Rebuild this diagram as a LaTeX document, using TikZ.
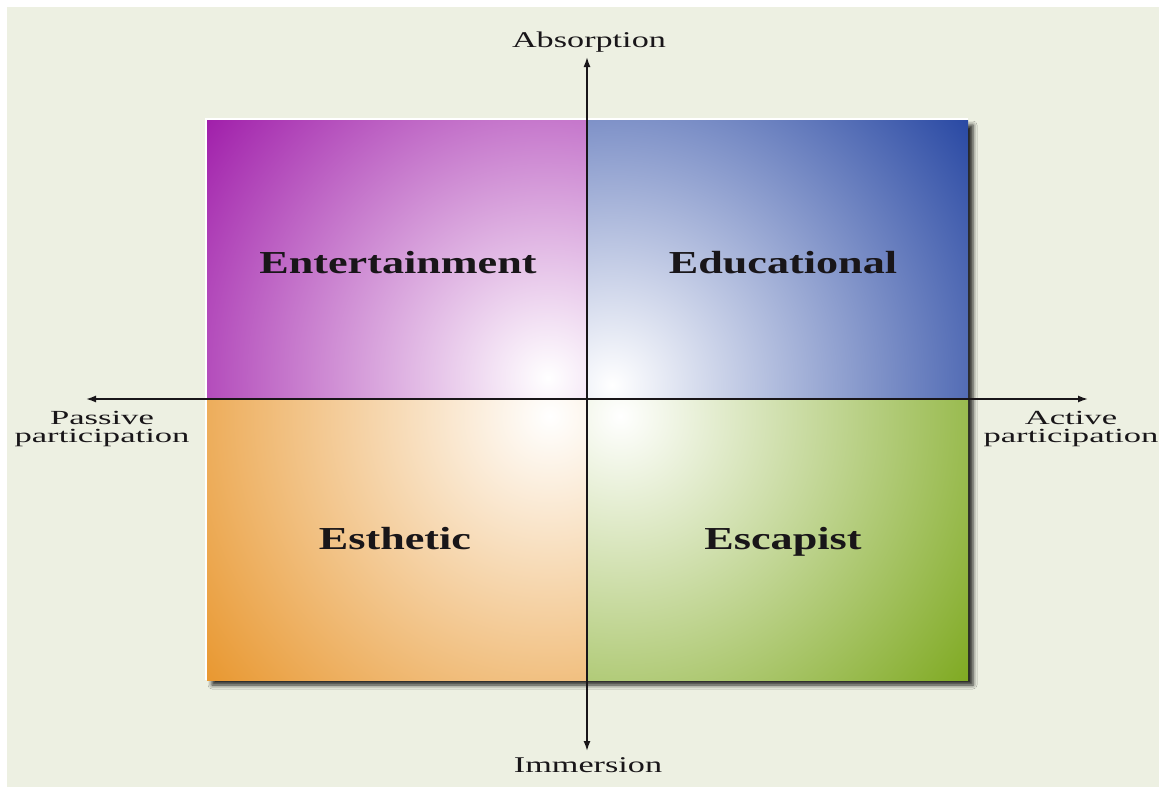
\documentclass[tikz,border=0pt]{standalone}
\usepackage{fontspec}
\setmainfont{Liberation Serif}
\newfontfamily\axisfont[FakeStretch=1.52]{Liberation Serif}
\newfontfamily\sidefont[FakeStretch=1.73]{Liberation Serif}
\newfontfamily\quadfont[FakeStretch=1.38]{Liberation Serif}
\usetikzlibrary{calc,arrows.meta,shadows.blur}

\definecolor{pagebg}{RGB}{237,240,226}
\definecolor{entcol}{RGB}{160,30,170}
\definecolor{educol}{RGB}{38,70,162}
\definecolor{estcol}{RGB}{232,150,45}
\definecolor{esccol}{RGB}{125,168,30}
\definecolor{inkcol}{RGB}{25,22,25}

\begin{document}
\begin{tikzpicture}[
    x=1pt, y=-1pt,
    axis/.style={
        draw=inkcol, line width=1.6pt,
        {Latex[length=10pt,width=7pt]}-{Latex[length=10pt,width=7pt]}
      },
    axis label/.style={text=inkcol, inner sep=0pt, anchor=base,
        font=\axisfont\fontsize{22.5}{24}\selectfont},
    side label/.style={text=inkcol, inner sep=0pt, align=center,
        font=\sidefont\fontsize{20}{18}\selectfont},
    quad label/.style={text=inkcol, inner sep=0pt, anchor=base,
        font=\quadfont\bfseries\fontsize{32}{36}\selectfont},
  ]

  % page with its white margin at top and left
  \fill[white] (0,0) rectangle (1159,787);
  \fill[pagebg] (7,7) rectangle (1159,787);
  \useasboundingbox (0,0) rectangle (1159,787);

  % corners of the square, centre and axis ends
  \coordinate (sq nw) at (207,120);
  \coordinate (sq se) at (968,680);
  \coordinate (origin) at (587,399);
  \coordinate (top tip) at (587,57);
  \coordinate (bottom tip) at (587,751);
  \coordinate (left tip) at (86,399);
  \coordinate (right tip) at (1088,399);

  % square with its shadow
  \draw[white, line width=2pt] ($(sq nw |- sq se)+(-1,0)$) |- ($(sq se |- sq nw)+(0,-1)$);
  \fill[white, blur shadow={shadow xshift=5pt, shadow yshift=-5pt,
        shadow blur radius=4pt, shadow opacity=85}]
    (sq nw) rectangle (sq se);

  % upper left quadrant
  \begin{scope}
    \clip (sq nw) rectangle (origin);
    \shade[inner color=white, outer color=entcol] (548,378) circle [radius=430pt];
  \end{scope}

  % upper right quadrant
  \begin{scope}
    \clip (origin |- sq nw) rectangle (sq se |- origin);
    \shade[inner color=white, outer color=educol] (612,385) circle [radius=450pt];
  \end{scope}

  % lower left quadrant
  \begin{scope}
    \clip (sq nw |- origin) rectangle (origin |- sq se);
    \shade[inner color=white, outer color=estcol] (550,416) circle [radius=440pt];
  \end{scope}

  % lower right quadrant
  \begin{scope}
    \clip (origin) rectangle (sq se);
    \shade[inner color=white, outer color=esccol] (620,416) circle [radius=445pt];
  \end{scope}

  % axes
  \draw[axis] (left tip) -- (right tip);
  \draw[axis] (bottom tip) -- (top tip);

  % axis labels
  \node[axis label] (absorption) at (589,47) {Absorption};
  \node[axis label] (immersion) at (588,772) {Immersion};
  \node[side label] (passive) at (102,429.5) {Passive\\participation};
  \node[side label] (active) at (1071,429.5) {Active\\participation};

  % quadrant labels
  \node[quad label] (entertainment) at (398,273) {Entertainment};
  \node[quad label] (educational) at (783,273) {Educational};
  \node[quad label] (esthetic) at (395,549) {Esthetic};
  \node[quad label] (escapist) at (783,549) {Escapist};
\end{tikzpicture}
\end{document}
